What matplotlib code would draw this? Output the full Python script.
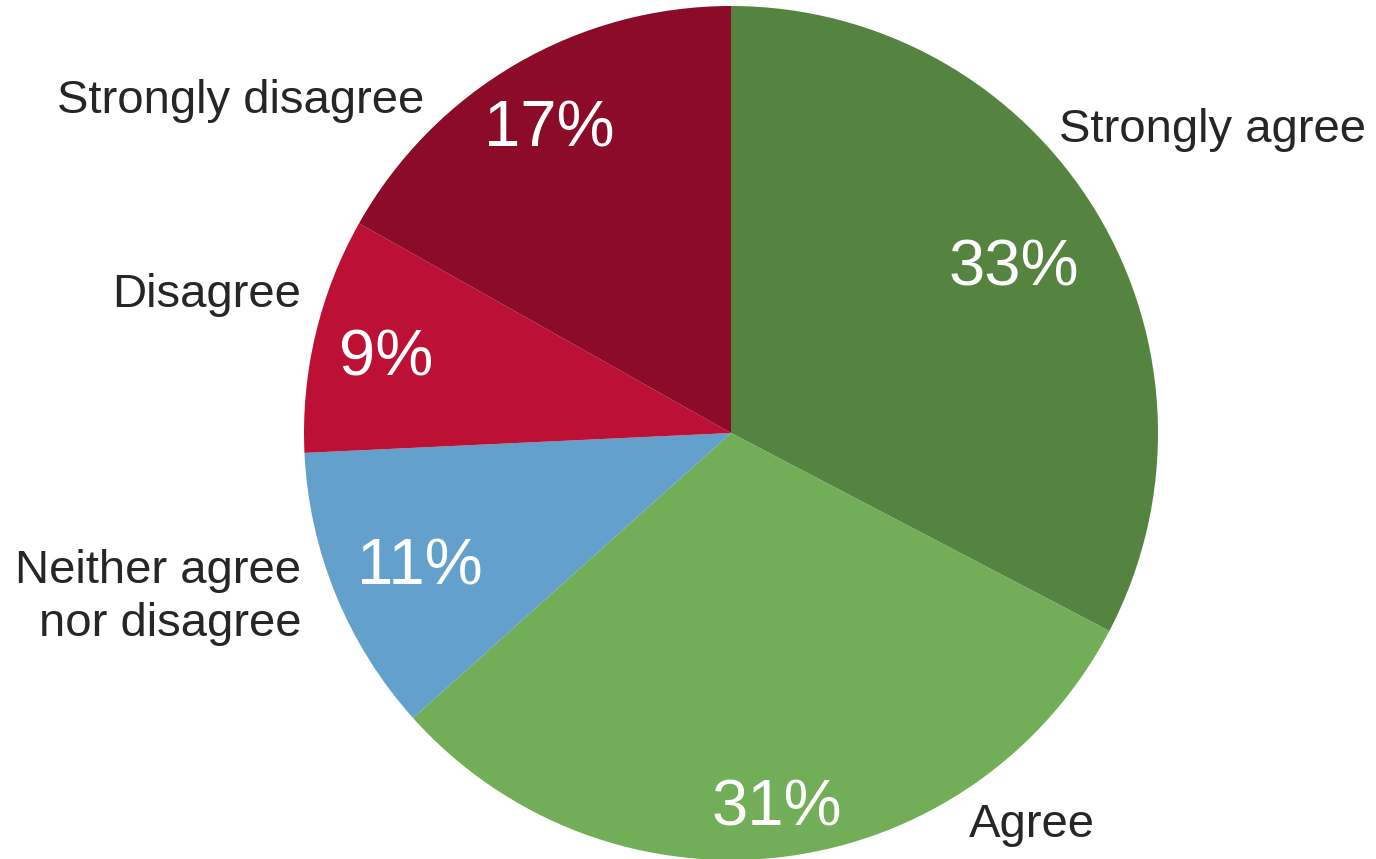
import numpy as np
import matplotlib.pyplot as plt

plt.rcParams['font.family'] = ['Liberation Sans', 'DejaVu Sans']

# survey answers, clockwise from the top
categories = ["Strongly agree", "Agree", "Neither agree\nnor disagree",
              "Disagree", "Strongly disagree"]
shares = [33, 31, 11, 9, 17]
pct_labels = ["33%", "31%", "11%", "9%", "17%"]

colors = ["#558441", "#72ad57", "#63a0cb", "#bd1035", "#8c0b29"]

# radial distance of the white percent labels, per slice
pct_dist = [0.775, 0.87, 0.787, 0.83, 0.843]
PCT_DROP = 0.017
# outside label anchors (in pie radius units) and alignment
lab_pos = [(0.767, 0.709, 'left'), (0.557, -0.918, 'left'),
           (-1.007, -0.385, 'right'), (-1.007, 0.323, 'right'),
           (-0.719, 0.778, 'right')]

R_PX = 427.0
W, H = 1376, 859
CX, CY = 731, 433

fig = plt.figure(figsize=(W / 100, H / 100), dpi=100)
ax = fig.add_axes([0, 0, 1, 1])

wedges, _ = ax.pie(shares, colors=colors, startangle=90, counterclock=False,
                   radius=1.0, wedgeprops=dict(linewidth=0))

for w, lab, d in zip(wedges, pct_labels, pct_dist):
    mid = np.deg2rad((w.theta1 + w.theta2) / 2)
    ax.text(d * np.cos(mid), d * np.sin(mid) - PCT_DROP, lab, color='white',
            fontsize=47, ha='center', va='center')

for (x, y, ha), lab in zip(lab_pos, categories):
    ax.text(x, y, lab, color='#262626', fontsize=34, ha=ha, va='center',
            linespacing=1.25)

ax.set_xlim(-CX / R_PX, (W - CX) / R_PX)
ax.set_ylim(-(H - CY) / R_PX, CY / R_PX)
ax.set_aspect('auto')
ax.axis('off')

fig.savefig("out.png", dpi=100, facecolor='white')
